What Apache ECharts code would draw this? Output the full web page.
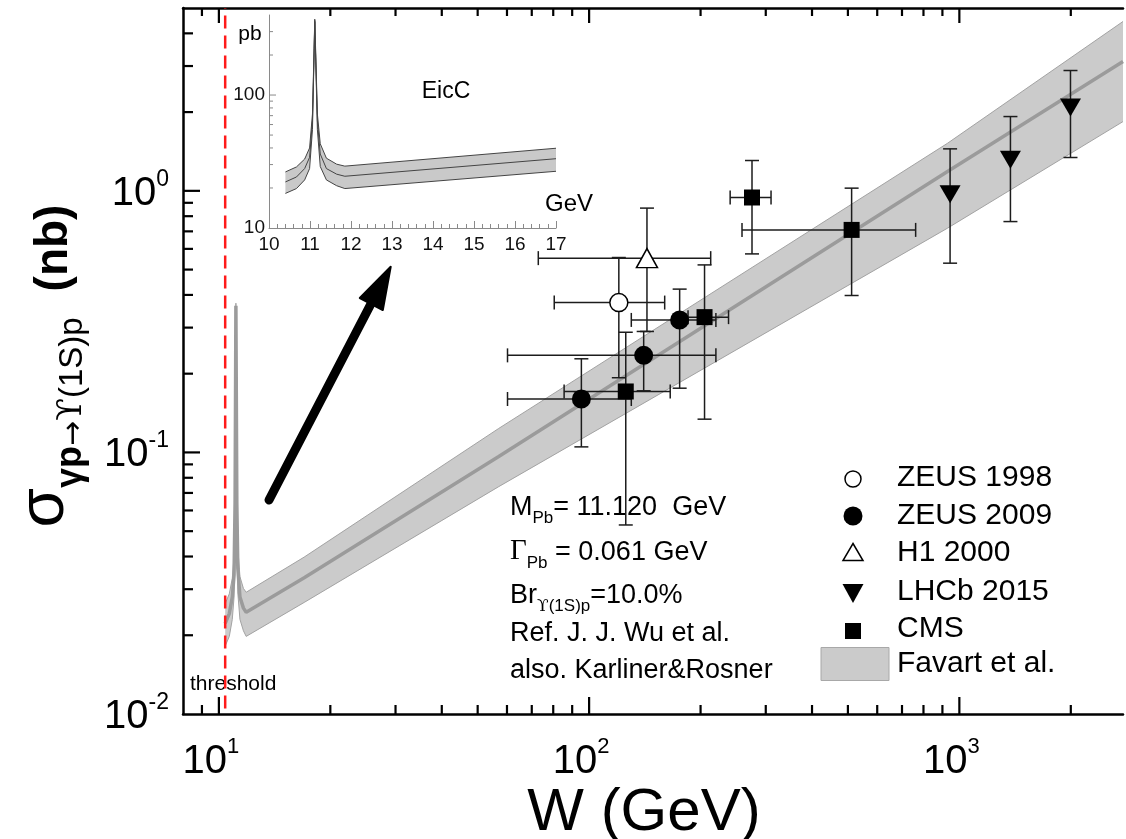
<!DOCTYPE html>
<html><head><meta charset="utf-8">
<script src="https://cdn.jsdelivr.net/npm/echarts@6/dist/echarts.min.js"></script>
<style>html,body{margin:0;padding:0;background:#fff}#c{width:1126px;height:839px}</style>
</head><body><div id="c"></div>
<script>
// ---------------- data ----------------
// Favart et al. band, W in GeV, sigma in nb
const bandW   = [10.4, 10.67, 10.87, 10.99, 11.06, 11.10, 11.116, 11.14, 11.18, 11.25, 11.40, 11.65, 11.85, 17, 57, 929, 2767];
const bandMid = [0.0222, 0.0242, 0.028, 0.034, 0.064, 0.214, 0.364, 0.191, 0.064, 0.036, 0.028, 0.0254, 0.0245, 0.0332, 0.0964, 1.185, 3.12];
const bandHi  = [0.0264, 0.0288, 0.033, 0.040, 0.072, 0.225, 0.372, 0.205, 0.072, 0.043, 0.0335, 0.0302, 0.0292, 0.0398, 0.1235, 1.52, 4.44];
const bandLo  = [0.0182, 0.0198, 0.023, 0.028, 0.055, 0.200, 0.356, 0.178, 0.055, 0.029, 0.023, 0.0208, 0.0198, 0.0267, 0.0740, 0.72, 1.84];
const thresholdW = 10.4;

// ZEUS 1998
const zeus98W = [120.3], zeus98S = [0.374], zeus98WLo = [80.5], zeus98WHi = [160], zeus98SLo = [0.193], zeus98SHi = [0.556];
// ZEUS 2009
const zeus09W = [95.3, 140.4, 175.6], zeus09S = [0.160, 0.235, 0.321];
const zeus09WLo = [60.2, 60.2, 130], zeus09WHi = [130, 220, 220];
const zeus09SLo = [0.105, 0.172, 0.176], zeus09SHi = [0.228, 0.290, 0.421];
// H1 2000
const h1W = [143.3], h1S = [0.553], h1WLo = [72.9], h1WHi = [213], h1SLo = [0.29], h1SHi = [0.859];
// LHCb 2015
const lhcbW = [944, 1374, 1996], lhcbS = [0.971, 1.314, 2.083];
const lhcbSLo = [0.529, 0.763, 1.341], lhcbSHi = [1.447, 1.923, 2.884];
// CMS
const cmsW = [125.6, 205, 275.4, 511.7], cmsS = [0.171, 0.329, 0.943, 0.709];
const cmsWLo = [85.6, 185, 240.4, 258.8], cmsWHi = [165.6, 238, 310, 762];
const cmsSLo = [0.0528, 0.134, 0.574, 0.398], cmsSHi = [0.288, 0.521, 1.306, 1.024];

// axes / ticks
const W_MIN = 8, W_MAX = 2767, S_MIN = 0.01, S_MAX = 5;
const xMajorTicks = [10, 100, 1000];
const xMinorTicks = [9, 20, 30, 40, 50, 60, 70, 80, 90, 200, 300, 400, 500, 600, 700, 800, 900, 2000];
const yMajorTicks = [0.1, 1];
const yMinorTicks = [0.02, 0.03, 0.04, 0.05, 0.06, 0.07, 0.08, 0.09, 0.2, 0.3, 0.4, 0.5, 0.6, 0.7, 0.8, 0.9, 2, 3, 4];
const insetXMin = 10, insetXMax = 17, insetYMin = 10, insetYMax = 400;
const insetYMajor = [100];
const insetYMinor = [20, 30, 40, 50, 60, 70, 80, 90, 200, 300];

// ---------------- chart ----------------
const FONT = "'Liberation Sans', Arial, Helvetica, sans-serif";
const SERIF = "'DejaVu Serif', 'Liberation Serif', serif";
const chart = echarts.init(document.getElementById('c'), null, {renderer: 'canvas'});

function isPow10(v) { const e = Math.log10(v); return Math.abs(e - Math.round(e)) < 1e-6; }
function powLabel(v) { if (!isPow10(v)) return ''; return '{b|10}{s|' + Math.round(Math.log10(v)) + '}'; }

function line(x1, y1, x2, y2, color, w) {
  return {type: 'line', shape: {x1, y1, x2, y2}, style: {stroke: color, lineWidth: w}};
}

function bandFill(xs, lo, hi, fill) {
  return function (params, api) {
    const up = [], dn = [];
    for (let i = 0; i < xs.length; i++) { up.push(api.coord([xs[i], hi[i]])); dn.push(api.coord([xs[i], lo[i]])); }
    return {type: 'polygon', shape: {points: up.concat(dn.reverse())}, style: {fill: fill}};
  };
}

function pairs(xs, ys) { return xs.map((x, i) => [x, ys[i]]); }

function errSeries(W, S, wLo, wHi, sLo, sHi) {
  const data = W.map((w, i) => [w, S[i], wLo ? wLo[i] : w, wHi ? wHi[i] : w, sLo[i], sHi[i]]);
  return {
    type: 'custom', data, encode: {x: 0, y: 1}, z: 5, clip: false, silent: true,
    renderItem(params, api) {
      const w = api.value(0), s = api.value(1);
      const c = api.coord([w, s]);
      const ch = [], col = '#1c1c1c', lw = 1.5, cap = 7;
      const wl = api.value(2), wh = api.value(3);
      if (wl !== w || wh !== w) {
        const a = api.coord([wl, s]), b = api.coord([wh, s]);
        ch.push(line(a[0], c[1], b[0], c[1], col, lw));
        ch.push(line(a[0], c[1] - cap, a[0], c[1] + cap, col, lw));
        ch.push(line(b[0], c[1] - cap, b[0], c[1] + cap, col, lw));
      }
      const lo = api.coord([w, api.value(4)]), hi = api.coord([w, api.value(5)]);
      ch.push(line(c[0], lo[1], c[0], hi[1], col, lw));
      ch.push(line(c[0] - cap, lo[1], c[0] + cap, lo[1], col, lw));
      ch.push(line(c[0] - cap, hi[1], c[0] + cap, hi[1], col, lw));
      return {type: 'group', children: ch};
    }
  };
}

const mainTicks = {
  type: 'custom', data: [[W_MIN, S_MIN]], z: 10, clip: false, silent: true,
  renderItem(params, api) {
    const bl = api.coord([W_MIN, S_MIN]), tr = api.coord([W_MAX, S_MAX]);
    const ch = [], col = '#000', lw = 2.2;
    xMajorTicks.forEach(v => { const x = api.coord([v, S_MIN])[0];
      ch.push(line(x, bl[1], x, bl[1] - 17, col, lw)); ch.push(line(x, tr[1], x, tr[1] + 15, col, lw)); });
    xMinorTicks.forEach(v => { const x = api.coord([v, S_MIN])[0];
      ch.push(line(x, bl[1], x, bl[1] - 9, col, lw)); ch.push(line(x, tr[1], x, tr[1] + 8, col, lw)); });
    yMajorTicks.forEach(v => { const y = api.coord([W_MIN, v])[1]; ch.push(line(bl[0], y, bl[0] + 17, y, col, lw)); });
    yMinorTicks.forEach(v => { const y = api.coord([W_MIN, v])[1]; ch.push(line(bl[0], y, bl[0] + 10, y, col, lw)); });
    return {type: 'group', children: ch};
  }
};
const insetTicks = {
  type: 'custom', xAxisIndex: 2, yAxisIndex: 1, data: [[insetXMin, insetYMin]], z: 10, clip: false, silent: true,
  renderItem(params, api) {
    const bl = api.coord([insetXMin, insetYMin]);
    const ch = [], col = '#8a8a8a';
    insetYMajor.forEach(v => { const y = api.coord([insetXMin, v])[1]; ch.push(line(bl[0], y, bl[0] + 7, y, col, 1)); });
    insetYMinor.forEach(v => { const y = api.coord([insetXMin, v])[1]; ch.push(line(bl[0], y, bl[0] + 4, y, col, 1)); });
    return {type: 'group', children: ch};
  }
};

// inset band (pb), only the 10-17 GeV part
const inW = [], inMid = [], inHi = [], inLo = [];
bandW.forEach((w, i) => { if (w <= insetXMax) { inW.push(w); inMid.push(bandMid[i] * 1000); inHi.push(bandHi[i] * 1000); inLo.push(bandLo[i] * 1000); } });

const axisBlack = {lineStyle: {color: '#000', width: 2.5}, onZero: false};
const xTickRich = {b: {fontSize: 40, fontFamily: FONT, color: '#000', verticalAlign: 'bottom', lineHeight: 46},
                   s: {fontSize: 22, fontFamily: FONT, color: '#000', verticalAlign: 'top', lineHeight: 46, padding: [0, 16, 0, 0]}};
const yTickRich = {b: {fontSize: 40, fontFamily: FONT, color: '#000', verticalAlign: 'bottom', lineHeight: 46},
                   s: {fontSize: 23, fontFamily: FONT, color: '#000', verticalAlign: 'top', lineHeight: 46}};

function lineSeries(xi, yi, xs, ys, color, width, z, type) {
  return {type: 'line', xAxisIndex: xi, yAxisIndex: yi, data: pairs(xs, ys), symbol: 'none', silent: true, z: z,
          lineStyle: {color: color, width: width, type: type || 'solid'}};
}

const sym = {
  zeus98: {symbol: 'circle', size: 18, fill: '#fff'},
  zeus09: {symbol: 'circle', size: 19, fill: '#000'},
  h1: {symbol: 'triangle', size: [21, 19], fill: '#fff'},
  lhcb: {symbol: 'path://M0,0L20,0L10,18Z', size: [21, 18], fill: '#000'},
  cms: {symbol: 'rect', size: 16, fill: '#000'}
};
function scatter(name, W, S, s) {
  return {type: 'scatter', name, data: pairs(W, S), symbol: s.symbol, symbolSize: s.size, z: 6, silent: true,
          itemStyle: {color: s.fill, borderColor: '#000', borderWidth: s.fill === '#fff' ? 1.5 : 0, opacity: 1}};
}

const option = {
  animation: false,
  backgroundColor: '#fff',
  grid: [{left: 183, top: 8, width: 943, height: 706}, {left: 269, top: 15, width: 287, height: 213}],
  xAxis: [
    {type: 'log', gridIndex: 0, min: W_MIN, max: W_MAX, position: 'bottom', axisLine: axisBlack, axisTick: {show: false},
     splitLine: {show: false}, axisLabel: {formatter: powLabel, margin: 22, rich: xTickRich}},
    {type: 'log', gridIndex: 0, min: W_MIN, max: W_MAX, position: 'top', axisLine: axisBlack, axisTick: {show: false},
     splitLine: {show: false}, axisLabel: {show: false}},
    {type: 'value', gridIndex: 1, min: insetXMin, max: insetXMax, interval: 1, position: 'bottom',
     axisLine: {onZero: false, lineStyle: {color: '#8a8a8a', width: 1}},
     axisTick: {inside: true, length: 7, lineStyle: {color: '#8a8a8a'}},
     minorTick: {show: true, splitNumber: 5, length: 4, lineStyle: {color: '#8a8a8a'}},
     splitLine: {show: false}, minorSplitLine: {show: false},
     axisLabel: {fontSize: 19, fontFamily: FONT, color: '#111', margin: 7}}
  ],
  yAxis: [
    {type: 'log', gridIndex: 0, min: S_MIN, max: S_MAX, axisLine: Object.assign({show: true}, axisBlack), axisTick: {show: false},
     splitLine: {show: false}, axisLabel: {formatter: powLabel, margin: 14, rich: yTickRich}},
    {type: 'log', gridIndex: 1, min: insetYMin, max: insetYMax, axisLine: {show: true, onZero: false, lineStyle: {color: '#8a8a8a', width: 1}},
     axisTick: {show: false}, splitLine: {show: false},
     axisLabel: {formatter: v => (isPow10(v) ? String(Math.round(v)) : ''), fontSize: 19, fontFamily: FONT, color: '#111', margin: 4}}
  ],
  series: [
    {type: 'custom', data: [[bandW[0], bandMid[0]]], z: 1, silent: true, renderItem: bandFill(bandW, bandLo, bandHi, '#cbcbcb')},
    lineSeries(0, 0, bandW, bandHi, '#a3a3a3', 1, 2),
    lineSeries(0, 0, bandW, bandLo, '#a3a3a3', 1, 2),
    lineSeries(0, 0, bandW, bandMid, '#9b9b9b', 3.5, 3),
    lineSeries(0, 0, [thresholdW, thresholdW], [0.0105, S_MAX], '#ff1a1a', 2.5, 4, [13, 7]),
    errSeries(zeus98W, zeus98S, zeus98WLo, zeus98WHi, zeus98SLo, zeus98SHi),
    errSeries(zeus09W, zeus09S, zeus09WLo, zeus09WHi, zeus09SLo, zeus09SHi),
    errSeries(h1W, h1S, h1WLo, h1WHi, h1SLo, h1SHi),
    errSeries(lhcbW, lhcbS, null, null, lhcbSLo, lhcbSHi),
    errSeries(cmsW, cmsS, cmsWLo, cmsWHi, cmsSLo, cmsSHi),
    scatter('ZEUS 1998', zeus98W, zeus98S, sym.zeus98),
    scatter('ZEUS 2009', zeus09W, zeus09S, sym.zeus09),
    scatter('H1 2000', h1W, h1S, sym.h1),
    scatter('LHCb 2015', lhcbW, lhcbS, sym.lhcb),
    scatter('CMS', cmsW, cmsS, sym.cms),
    mainTicks,
    {type: 'custom', xAxisIndex: 2, yAxisIndex: 1, data: [[inW[0], inMid[0]]], z: 1, silent: true, renderItem: bandFill(inW, inLo, inHi, '#c9c9c9')},
    lineSeries(2, 1, inW, inHi, '#444', 1, 2),
    lineSeries(2, 1, inW, inLo, '#444', 1, 2),
    lineSeries(2, 1, inW, inMid, '#444', 1, 2),
    insetTicks
  ],
  graphic: []
};

// ---------- texts & decorations ----------
const g = option.graphic;
const T = (x, y, text, size, extra) => g.push(Object.assign({type: 'text', x, y, silent: true,
  style: Object.assign({text, fontSize: size, fontFamily: FONT, fill: '#000', align: 'left', verticalAlign: 'middle'}, extra || {})}));

// y-axis title (rotated, reads bottom to top)
g.push({type: 'text', x: 45, y: 366, rotation: Math.PI / 2, silent: true,
  style: {text: '{s|σ}{g|γp}{a|→}{y|ϒ}{u|(1S)p}{n|(nb)}', align: 'center', verticalAlign: 'middle',
    rich: {
      s: {fontSize: 64, fontFamily: FONT, fill: '#000', verticalAlign: 'bottom', lineHeight: 64},
      g: {fontSize: 36, fontWeight: 'bold', fontFamily: FONT, fill: '#000', verticalAlign: 'bottom', padding: [0, 0, -12, 0]},
      a: {fontSize: 30, fontFamily: "'DejaVu Sans', sans-serif", fill: '#000', verticalAlign: 'bottom', padding: [0, 0, -12, 0]},
      y: {fontSize: 33, fontFamily: SERIF, fill: '#000', verticalAlign: 'bottom', padding: [0, 0, -12, 0]},
      u: {fontSize: 33, fontFamily: FONT, fill: '#000', verticalAlign: 'bottom', padding: [0, 0, -12, 0]},
      n: {fontSize: 46, fontWeight: 'bold', fontFamily: FONT, fill: '#000', verticalAlign: 'bottom', lineHeight: 64, padding: [0, 0, 0, 26]}
    }}});
// x-axis title
T(644, 813, 'W (GeV)', 60, {align: 'center'});

// annotation
const sub = {fontSize: 17, fontFamily: FONT, fill: '#000', verticalAlign: 'bottom', padding: [0, 0, -6, 0]};
const main = {fontSize: 27, fontFamily: FONT, fill: '#000', verticalAlign: 'bottom', lineHeight: 30};
T(510, 506, '{m|M}{p|Pb}{m|= 11.120  GeV}', 27, {rich: {m: main, p: sub}});
T(510, 551, '{G|Γ}{p|Pb}{m| = 0.061 GeV}', 27, {rich: {m: main, p: sub,
  G: Object.assign({}, main, {fontFamily: "'Liberation Serif', 'DejaVu Serif', serif", fontSize: 29})}});
T(510, 594, '{m|Br}{y|ϒ}{p|(1S)p}{m|=10.0%}', 27, {rich: {m: main, p: sub,
  y: Object.assign({}, sub, {fontFamily: SERIF})}});
T(510, 634, 'Ref. J. J. Wu et al.', 27);
T(510, 671, 'also. Karliner&Rosner', 27);

// threshold label
T(190, 684, 'threshold', 21);

// inset labels
T(446, 92, 'EicC', 23, {align: 'center'});
T(569, 204, 'GeV', 24, {align: 'center'});
T(250, 34, 'pb', 21, {align: 'center'});

// arrow
g.push({type: 'line', silent: true, shape: {x1: 269, y1: 500, x2: 374, y2: 298}, style: {stroke: '#000', lineWidth: 9, lineCap: 'round'}});
g.push({type: 'polygon', silent: true, shape: {points: [[390.7, 266.7], [382.8, 310], [359.8, 298]]}, style: {fill: '#000', stroke: '#000', lineWidth: 2, lineJoin: 'round'}});

// legend
const LX = 853, TX = 897;
g.push({type: 'circle', silent: true, shape: {cx: LX, cy: 479, r: 8}, style: {fill: '#fff', stroke: '#000', lineWidth: 1.5}});
g.push({type: 'circle', silent: true, shape: {cx: LX, cy: 516, r: 9.5}, style: {fill: '#000'}});
g.push({type: 'polygon', silent: true, shape: {points: [[LX, 543.5], [LX + 10, 560.5], [LX - 10, 560.5]]}, style: {fill: '#fff', stroke: '#000', lineWidth: 1.5}});
g.push({type: 'polygon', silent: true, shape: {points: [[LX - 10.5, 584], [LX + 10.5, 584], [LX, 603]]}, style: {fill: '#000'}});
g.push({type: 'rect', silent: true, shape: {x: LX - 8, y: 623, width: 16, height: 16}, style: {fill: '#000'}});
g.push({type: 'rect', silent: true, shape: {x: 821, y: 647.5, width: 68, height: 33}, style: {fill: '#cbcbcb', stroke: '#a8a8a8', lineWidth: 1}});
T(TX, 478, 'ZEUS 1998', 30);
T(TX, 516, 'ZEUS 2009', 30);
T(TX, 553, 'H1 2000', 30);
T(TX, 592, 'LHCb 2015', 30);
T(TX, 629, 'CMS', 30);
T(TX, 664, 'Favart et al.', 30);

chart.setOption(option);
</script></body></html>
